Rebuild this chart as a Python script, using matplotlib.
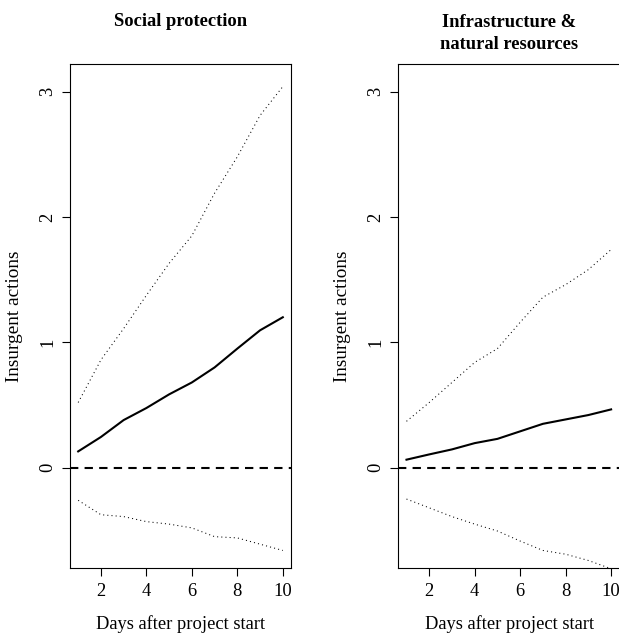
import numpy as np
import matplotlib
matplotlib.use('Agg')
import matplotlib.pyplot as plt

plt.rcParams['font.family'] = ['Liberation Serif', 'DejaVu Serif']

# dias despues del inicio del proyecto
days = list(range(1, 11))

# panel izquierdo: proteccion social
social_mean = [0.13, 0.245, 0.38, 0.476, 0.585, 0.68, 0.80, 0.95, 1.096, 1.20]
social_upper = [0.52, 0.86, 1.11, 1.375, 1.63, 1.85, 2.19, 2.48, 2.81, 3.04]
social_lower = [-0.26, -0.375, -0.39, -0.43, -0.45, -0.48, -0.55, -0.56, -0.61, -0.66]

# panel derecho: infraestructura
infra_mean = [0.064, 0.106, 0.146, 0.196, 0.23, 0.29, 0.35, 0.385, 0.42, 0.465]
infra_upper = [0.37, 0.52, 0.68, 0.84, 0.95, 1.16, 1.36, 1.46, 1.58, 1.74]
infra_lower = [-0.25, -0.32, -0.39, -0.45, -0.505, -0.585, -0.66, -0.69, -0.74, -0.806]

titles = ['Social protection', 'Infrastructure &\nnatural resources']
yticks = [0, 1, 2, 3]
xticks = [2, 4, 6, 8, 10]

W, H = 619, 636
fs = 13.3
fig = plt.figure(figsize=(W / 100, H / 100), dpi=100)

panels = [
    (70, 221, social_mean, social_upper, social_lower),
    (398.3, 222, infra_mean, infra_upper, infra_lower),
]

for i, (left, width, mean, up, lo) in enumerate(panels):
    ax = fig.add_axes([left / W, (H - 568) / H, width / W, 504 / H])
    ax.plot(days, up, color='black', lw=0.75, ls=(0, (1, 3)))
    ax.plot(days, lo, color='black', lw=0.75, ls=(0, (1, 3)))
    ax.plot(days, mean, color='black', lw=1.5)
    ax.axhline(0, color='black', lw=1.5, ls=(0, (4, 3)))

    ax.set_xlim(0.64, 0.64 + 9.72 * width / 221)
    ax.set_ylim(-0.80, 3.22)
    ax.set_xticks(xticks)
    ax.set_yticks(yticks)
    ax.tick_params(direction='out', length=6, width=0.8, labelsize=fs, color='black')
    ax.tick_params(axis='x', pad=5)
    ax.tick_params(axis='y', pad=4)
    for lab in ax.get_yticklabels():
        lab.set_rotation(90)
        lab.set_va('center')
    for s in ax.spines.values():
        s.set_linewidth(0.8)
    ax.set_xlabel('Days after project start', fontsize=fs)
    ax.set_ylabel('Insurgent actions', fontsize=13.9)
    ax.xaxis.set_label_coords(0.5, -0.094)
    ax.yaxis.set_label_coords(-0.212 * 221 / width, 0.5)

    # la linea base del ultimo renglon del titulo
    nl = titles[i].count('\n')
    cx = (left + 110.5) / W
    fig.text(cx, 1 - (26.5 + 22.7 * nl) / H, titles[i], ha='center', va='baseline',
             fontsize=fs, fontweight='bold', linespacing=1.39)

fig.savefig('out.png', dpi=100)
